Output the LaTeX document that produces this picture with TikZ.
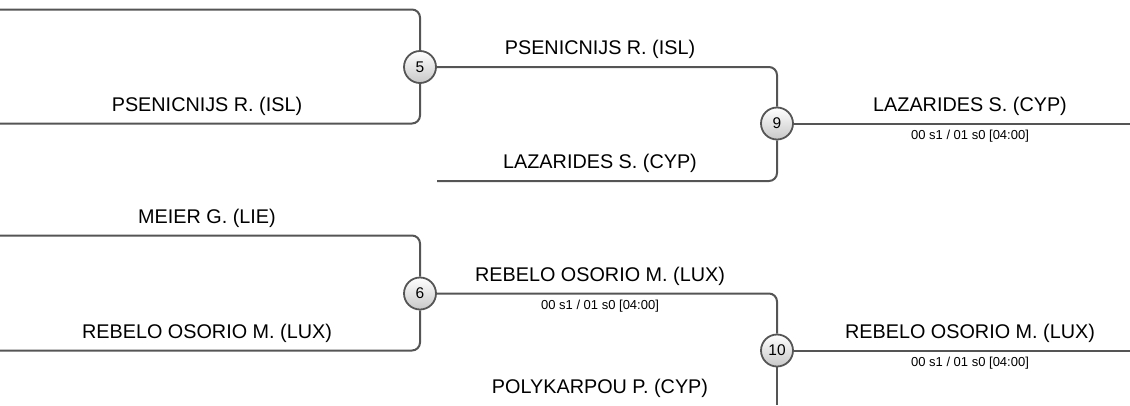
\documentclass[tikz,border=0pt]{standalone}
\usepackage{fontspec}
\setmainfont{Liberation Sans}
\definecolor{ln}{RGB}{85, 85, 85}
\definecolor{ball}{RGB}{200, 200, 200}
\usetikzlibrary{positioning}

\begin{document}
\begin{tikzpicture}[x=1pt, y=-1pt,
  every node/.style={inner sep=0pt},
  mnum/.style={circle, minimum size=32pt, draw=ln, line width=1.8pt, top color=white, bottom color=ball, font=\fontsize{15.5}{15.5}\selectfont},
  bline/.style={line width=2pt, color=ln, rounded corners=8pt},
  pname/.style={anchor=base, font=\fontsize{19.8}{22}\selectfont},
  score/.style={font=\fontsize{13}{15}\selectfont}]
\useasboundingbox (0,0) rectangle (1130,405);
% match circles
\node (m5) [mnum] at (420, 67.0) {5};
\node (m9) [mnum] at (777, 123.5) {9};
\node (m6) [mnum] at (420, 293.5) {6};
\node (m10) [mnum] at (777, 350.5) {10};
% free line ends
\coordinate (a1) at (0, 9.5);
\coordinate (a2) at (0, 123.5);
\coordinate (a3) at (437, 181.0);
\coordinate (a4) at (0, 235.5);
\coordinate (a5) at (0, 350.5);
\coordinate (a6) at (777, 405);
\coordinate (e9) at (1130, 123.5);
\coordinate (e10) at (1130, 350.5);
\draw [bline] (a1) -| (m5);
\draw [bline] (a2) -| (m5);
\draw [bline] (m5) -| (m9);
\draw [bline] (a3) -| (m9);
\draw [bline] (m9) -- (e9);
\draw [bline] (a4) -| (m6);
\draw [bline] (a5) -| (m6);
\draw [bline] (m6) -| (m10);
\draw [bline] (m10) -- (a6);
\draw [bline] (m10) -- (e10);
% players
\node (p1) [pname] at (207, 111.0) {PSENICNIJS R. (ISL)};
\node (p2) [pname] at (207, 223.0) {MEIER G. (LIE)};
\node (p3) [pname] at (207, 338.0) {REBELO OSORIO M. (LUX)};
\node (w5) [pname] at (600, 54.5) {PSENICNIJS R. (ISL)};
\node (p4) [pname] at (600, 168.5) {LAZARIDES S. (CYP)};
\node (w6) [pname] at (600, 281.0) {REBELO OSORIO M. (LUX)};
\node (p5) [pname] at (600, 393.5) {POLYKARPOU P. (CYP)};
\node (w9) [pname] at (970, 111.0) {LAZARIDES S. (CYP)};
\node (w10) [pname] at (970, 338.0) {REBELO OSORIO M. (LUX)};
% results
\node (s6) [score] at (600, 306.5) {00 s1 / 01 s0 [04:00]};
\node (s9) [score] at (970, 136.0) {00 s1 / 01 s0 [04:00]};
\node (s10) [score] at (970, 363.0) {00 s1 / 01 s0 [04:00]};
\end{tikzpicture}
\end{document}
